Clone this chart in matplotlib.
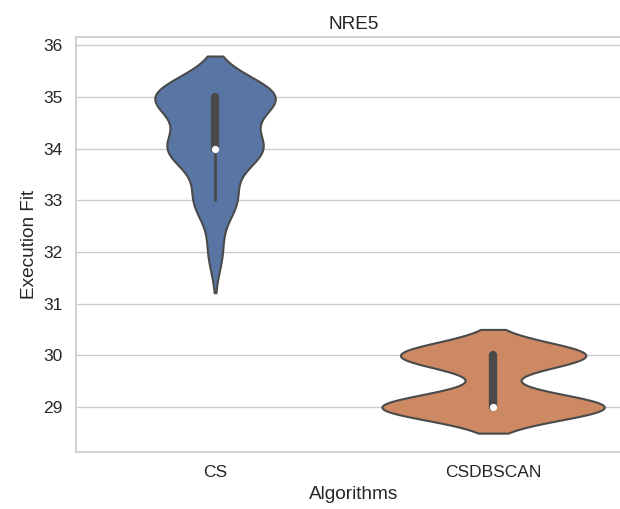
import numpy as np
import pandas as pd
import seaborn as sns
import matplotlib.pyplot as plt

# execution fit values per run, grouped by algorithm
algorithms = ["CS", "CSDBSCAN"]
cs_values = [32] * 3 + [33] * 9 + [34] * 20 + [35] * 26
csdbscan_values = [29] * 18 + [30] * 15

df = pd.DataFrame({
    "Algorithms": ["CS"] * len(cs_values) + ["CSDBSCAN"] * len(csdbscan_values),
    "Execution Fit": cs_values + csdbscan_values,
})

sns.set_theme(style="whitegrid", font_scale=1.14)
plt.rcParams['font.family'] = ['Liberation Sans', 'DejaVu Sans']
colors = sns.color_palette("deep", len(algorithms), desat=0.75)

fig = plt.figure(figsize=(6.2, 5.09), dpi=100)
# the axes runs slightly past the right edge of the canvas
ax = fig.add_axes([0.1226, 0.112, 0.897, 0.815])
sns.violinplot(data=df, x="Algorithms", y="Execution Fit", order=algorithms,
               color=colors[0], linewidth=1.5, linecolor=".29",
               inner="box", inner_kws=dict(box_width=6, whis_width=2,
                                           marker="o", markersize=4),
               ax=ax)

# recolour each violin body
for body, col in zip(ax.collections[:len(algorithms)], colors):
    body.set_facecolor(col)

ax.set_title("NRE5")

fig.savefig("out.png", dpi=100)
